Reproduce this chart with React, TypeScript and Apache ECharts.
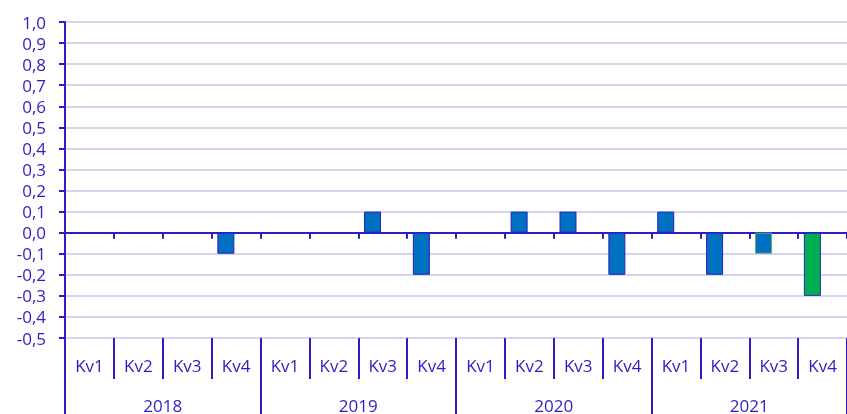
import React, { useEffect, useRef } from "react";
import * as echarts from "echarts";

const quarters = ["Kv1", "Kv2", "Kv3", "Kv4"];
const years = ["2018", "2019", "2020", "2021"];
const values2018 = [0, 0, 0, -0.1];
const values2019 = [0, 0, 0.1, -0.2];
const values2020 = [0, 0.1, 0.1, -0.2];
const values2021 = [0.1, -0.2, -0.1, -0.3];

const INK = "#2D1EC2";
const GRID = "#D5D5EF";
const BLUE = "#0070C0";
const GREEN = "#00B050";

export default function App() {
  const ref = useRef<HTMLDivElement>(null);
  useEffect(() => {
    if (!ref.current) return;
    document.body.style.margin = "0";
    const chart = echarts.init(ref.current, null, { renderer: "svg" });
    const cats: string[] = [];
    years.forEach(() => quarters.forEach((q) => cats.push(q)));
    const all = [...values2018, ...values2019, ...values2020, ...values2021];
    const data = all.map((v, i) => {
      if (i === 14) return { value: v, itemStyle: { color: BLUE, borderColor: "#6BAA74" } };
      if (i === 15) return { value: v, itemStyle: { color: GREEN, borderColor: INK } };
      return { value: v };
    });
    const font = "'Open Sans', sans-serif";
    chart.setOption({
      animation: false,
      grid: { left: 65, top: 22, width: 791, height: 316, containLabel: false },
      xAxis: [
        {
          type: "category",
          data: cats,
          axisLine: { onZero: true, lineStyle: { color: INK, width: 2 } },
          axisTick: { show: true, length: 6, lineStyle: { color: INK, width: 2 } },
          axisLabel: { show: false },
          splitLine: { show: false },
        },
        {
          type: "category",
          data: cats,
          position: "bottom",
          axisLine: { show: false, onZero: false },
          axisTick: { show: true, length: 41, interval: 0, lineStyle: { color: INK, width: 2 } },
          axisLabel: { margin: 19, color: INK, fontSize: 17, fontFamily: font, interval: 0 },
        },
        {
          type: "category",
          data: years,
          position: "bottom",
          axisLine: { show: false, onZero: false },
          axisTick: { show: true, length: 80, interval: 0, lineStyle: { color: INK, width: 2 } },
          axisLabel: { margin: 60, lineHeight: 15, color: INK, fontSize: 17, fontFamily: font, interval: 0 },
        },
      ],
      yAxis: {
        type: "value",
        min: -0.5,
        max: 1.0,
        interval: 0.1,
        axisLine: { show: true, lineStyle: { color: INK, width: 2 } },
        axisTick: { show: true, length: 6, lineStyle: { color: INK, width: 2 } },
        axisLabel: {
          margin: 19,
          color: INK,
          fontSize: 17,
          fontFamily: font,
          formatter: (v: number) => (Math.round(v * 10) / 10).toFixed(1).replace(".", ","),
        },
        splitLine: { show: true, lineStyle: { color: GRID, width: 2 } },
      },
      series: [
        {
          type: "bar",
          xAxisIndex: 0,
          data,
          barWidth: 17,
          barGap: "20%",
          itemStyle: { color: BLUE, borderColor: INK, borderWidth: 1 },
        },
        {
          type: "bar",
          xAxisIndex: 0,
          data: all.map(() => null),
          barWidth: 17,
          barGap: "20%",
        },
      ],
    });
    return () => chart.dispose();
  }, []);
  return <div ref={ref} style={{ position: "fixed", left: 0, top: 0, width: 847, height: 414 }} />;
}
